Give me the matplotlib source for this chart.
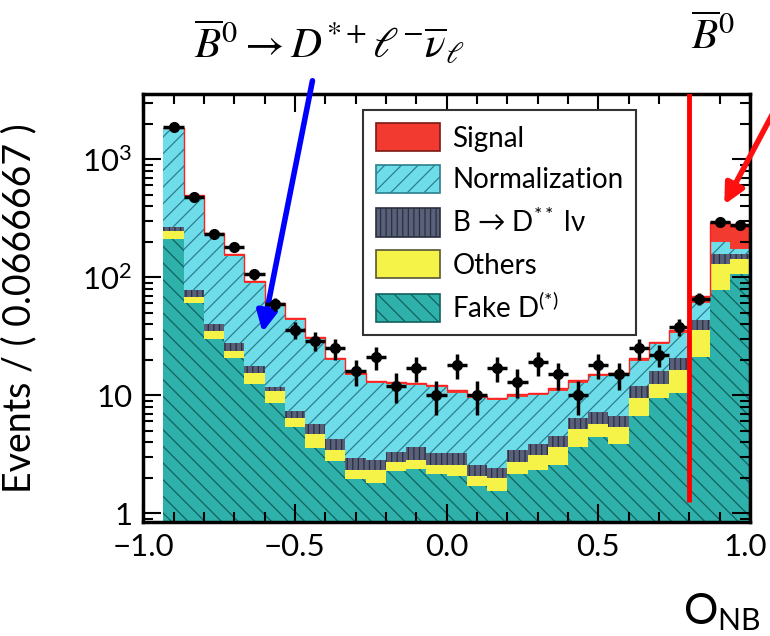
"""
O_NB distribution: stacked MC components on log scale with data points
"""
import numpy as np
import matplotlib
matplotlib.use('Agg')
import matplotlib.pyplot as plt
import matplotlib.transforms as mtransforms
from matplotlib.patches import Patch
from matplotlib.ticker import FixedLocator, FixedFormatter, LogLocator, MultipleLocator, NullFormatter

plt.rcParams['font.family'] = ['Lato', 'DejaVu Sans']
plt.rcParams['mathtext.fontset'] = 'custom'
plt.rcParams['mathtext.rm'] = 'Lato'
plt.rcParams['mathtext.it'] = 'Lato:italic'
plt.rcParams['mathtext.bf'] = 'Lato:bold'
plt.rcParams['hatch.linewidth'] = 0.9

# 30 bins of 0.0666667 on [-1, 1]; the first bin is empty so it is left out
bin_edges = np.linspace(-1.0, 1.0, 31)[1:]

# component yields per bin (bottom to top of the stack)
fake_d = [211, 61, 30, 20.6, 12.3, 8.6, 5.3, 3.55, 2.74, 1.89, 1.77, 2.21, 2.32, 2.08, 2.01,
          1.66, 1.50, 2.08, 2.29, 2.52, 3.6, 4.37, 3.84, 6.65, 9.5, 10.5, 20.9, 78, 107]
others = [37, 7, 5, 2.9, 3.1, 2.3, 1.1, 1.11, 0.63, 0.40, 0.52, 0.48, 0.46, 0.44, 0.51,
          0.35, 0.45, 0.61, 0.77, 1.08, 1.5, 1.28, 1.46, 2.85, 2.8, 5.9, 14.8, 52, 36]
d_starstar = [17, 9.6, 5, 4.1, 2.1, 0.8, 0.9, 0.99, 0.86, 0.58, 0.49, 0.57, 0.82, 0.64, 0.64,
              0.51, 0.41, 0.68, 0.78, 0.90, 1.3, 1.45, 1.35, 2.4, 3.6, 4.2, 7.7, 28, 15]
normalization = [1565, 407, 192, 124.4, 71.5, 46.3, 35.7, 24.35, 15.57, 11.93, 9.82, 9.14, 8.6,
                 8.44, 7.34, 6.88, 6.74, 6.33, 6.16, 6.4, 6.3, 7.3, 8.05, 7.7, 11.1, 12.9, 16.6, 40, 16]
signal = [20, 10, 4, 6, 4, 2, 2, 1.4, 0.8, 0.6, 0.5, 0.5, 0.5, 0.5, 0.5,
          0.4, 0.4, 0.4, 0.4, 0.5, 0.6, 0.7, 0.7, 1.0, 1.5, 2.2, 10, 98, 91]

# observed events per bin
data_counts = [1880, 475, 233, 181, 106, 59, 36, 29, 25, 16, 21, 12, 17, 10, 18,
               10, 17, 13, 19, 15, 10, 18, 15, 25, 22, 38, 66, 297, 276]

components = [
    ("Fake D$^{\\mathrm{(*)}}$", fake_d, '#2fb1ab', '\\\\', '#11615d'),
    ("Others", others, '#f6f348', None, '#555533'),
    ("B \u2192 D$^{\\mathrm{**}}$ l\u03bd", d_starstar, '#596079', '|||', '#2a2e3e'),
    ("Normalization", normalization, '#6fdde9', '//', '#2b7f8e'),
    ("Signal", signal, '#f23a30', None, '#7a1a15'),
]

fig = plt.figure(figsize=(7.7, 6.36), dpi=100)
ax = fig.add_axes([0.186, 0.179, 0.788, 0.673])

# stacked components
base = np.full(len(fake_d), 0.05)
handles = []
for label, vals, fc, hatch, hc in components:
    top = base + np.array(vals)
    ax.stairs(top, bin_edges, baseline=base, fill=True, facecolor=fc,
              edgecolor=hc if hatch else fc, hatch=hatch, linewidth=0)
    handles.append(Patch(facecolor=fc, edgecolor=hc, hatch=hatch, linewidth=1.2, label=label))
    base = top

# total outline
ax.stairs(base, bin_edges, baseline=None, color='#ff2020', linewidth=1.0)

# data with sqrt(N) errors
centers = 0.5 * (bin_edges[:-1] + bin_edges[1:])
widths = np.diff(bin_edges)
data = np.array(data_counts, dtype=float)
ax.errorbar(centers, data, xerr=widths / 2, yerr=np.sqrt(data), fmt='o', color='black',
            ms=7, elinewidth=2.5, capsize=0, zorder=5)

# cut position
ax.vlines(0.8, 1.25, 5000, color='red', linewidth=3.5, zorder=6)

ax.set_yscale('log')
ax.set_xlim(-1.0, 1.0)
ax.set_ylim(0.84, 3570)

ax.xaxis.set_major_locator(FixedLocator([-1.0, -0.5, 0.0, 0.5, 1.0]))
ax.xaxis.set_major_formatter(FixedFormatter(['\u22121.0', '\u22120.5', '0.0', '0.5', '1.0']))
ax.xaxis.set_minor_locator(MultipleLocator(0.1))

ax.yaxis.set_major_locator(FixedLocator([1, 10, 100, 1000]))
ax.yaxis.set_major_formatter(FixedFormatter(['1', '10', '10$^{2}$', '10$^{3}$']))
ax.yaxis.set_minor_locator(LogLocator(base=10, subs=np.arange(2, 10)))
ax.yaxis.set_minor_formatter(NullFormatter())

ax.tick_params(which='both', direction='in', top=True, right=True, width=1.5, labelsize=22.5)
ax.tick_params(which='major', length=13, pad=8)
ax.tick_params(which='minor', length=7)
for s in ax.spines.values():
    s.set_linewidth(2.5)

# keep the last x label inside the canvas
last = ax.get_xticklabels()[-1]
last.set_transform(last.get_transform() + mtransforms.ScaledTranslation(-5 / 100, 0, fig.dpi_scale_trans))

ax.set_ylabel('Events / ( 0.0666667 )', fontsize=27)
ax.yaxis.set_label_coords(-0.175, 0.5)

fig.text(0.938, 0.004, 'O$_{\\mathrm{NB}}$', fontsize=31, ha='center', va='bottom')

leg = ax.legend(handles=handles[::-1], loc='upper left', bbox_to_anchor=(0.363, 0.962),
                borderaxespad=0, fontsize=20, handlelength=2.3, handleheight=1.2,
                labelspacing=0.48, handletextpad=0.45, borderpad=0.45, fancybox=False,
                framealpha=1, edgecolor='#333333')
leg.get_frame().set_linewidth(1.5)

# decay labels and arrows above the frame
fig.text(0.252, 0.936, r'$\overline{B}^{0} \rightarrow D^{*+}\ell^{-}\overline{\nu}_{\ell}$',
         fontsize=31, math_fontfamily='stix', ha='left', va='center')
fig.text(0.898, 0.945, r'$\overline{B}^{0}$', fontsize=31, math_fontfamily='stix',
         ha='left', va='center')

ax.annotate('', xy=(262, 636 - 335), xycoords='figure pixels',
            xytext=(313, 636 - 78), textcoords='figure pixels',
            arrowprops=dict(arrowstyle='-|>', color='#0000ff', lw=4, mutation_scale=30),
            annotation_clip=False)
ax.annotate('', xy=(723, 636 - 207), xycoords='figure pixels',
            xytext=(780, 636 - 100), textcoords='figure pixels',
            arrowprops=dict(arrowstyle='-|>', color='#ff1010', lw=4, mutation_scale=30),
            annotation_clip=False)

fig.savefig('out.png', dpi=100)
